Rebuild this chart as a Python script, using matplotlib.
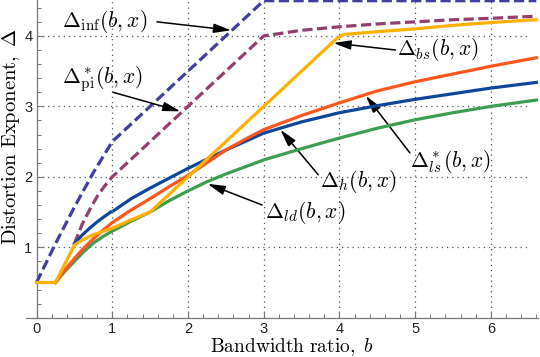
import matplotlib
matplotlib.use("Agg")
import matplotlib.pyplot as plt
from matplotlib.ticker import FixedLocator
import numpy as np

plt.rcParams['mathtext.fontset'] = 'cm'

# ---- data ----
b_inf = [0, 0.25, 0.5, 0.75, 1, 3, 6.6]
d_inf = [0.5, 1.05, 1.57, 2.06, 2.5, 4.5, 4.5]

b_pi = [0.5, 0.6, 0.7, 0.8, 0.9, 1, 3, 3.5, 4, 4.5, 5, 5.5, 6, 6.6]
d_pi = [1.05, 1.32, 1.53, 1.72, 1.87, 2.0, 4.0, 4.08, 4.13, 4.17, 4.2, 4.23, 4.25, 4.28]

b_h1 = [0.5, 0.6, 0.7, 0.8, 0.9, 0.98]
d_h1 = [1.05, 1.17, 1.27, 1.36, 1.44, 1.5]
b_h2 = [1.02, 1.25, 1.5, 1.75, 2, 2.25, 2.5, 2.75, 3, 3.5, 4, 4.5, 5, 5.5, 6, 6.6]
d_h2 = [1.52, 1.69, 1.84, 1.98, 2.12, 2.25, 2.38, 2.5, 2.62, 2.78, 2.91, 3.01, 3.1, 3.18, 3.26, 3.34]

b_ls = [0.25, 0.375, 0.5, 0.625, 0.75, 0.875, 1, 1.25, 1.5, 1.75, 2, 2.25, 2.5, 2.75, 3, 3.5, 4, 4.5, 5, 5.5, 6, 6.6]
d_ls = [0.5, 0.68, 0.84, 0.99, 1.12, 1.24, 1.35, 1.53, 1.69, 1.86, 2.02, 2.2, 2.38, 2.53, 2.67, 2.87, 3.05, 3.22, 3.35, 3.46, 3.57, 3.69]

b_ld = [0.25, 0.375, 0.5, 0.625, 0.75, 0.875, 1, 1.25, 1.5, 1.75, 2, 2.25, 2.5, 2.75, 3, 3.5, 4, 4.5, 5, 5.5, 6, 6.6]
d_ld = [0.5, 0.66, 0.8, 0.94, 1.06, 1.15, 1.23, 1.37, 1.5, 1.66, 1.8, 1.93, 2.04, 2.14, 2.24, 2.4, 2.55, 2.69, 2.81, 2.91, 3.0, 3.09]

b_bs = [0, 0.25, 0.5, 0.6, 0.75, 1, 1.25, 1.5, 3.95, 4.05, 4.5, 5, 5.5, 6, 6.6]
d_bs = [0.5, 0.5, 1.03, 1.1, 1.18, 1.27, 1.39, 1.5, 3.95, 4.02, 4.06, 4.1, 4.15, 4.19, 4.23]

x_ticks = [0, 1, 2, 3, 4, 5, 6]
y_ticks = [1, 2, 3, 4]

# ---- figure ----
fig = plt.figure(figsize=(5.4, 3.57), dpi=100)
ax = fig.add_axes([0.048, 0.11, 0.948, 0.89])
ax.set_xlim(-0.14, 6.62)
ax.set_ylim(0, 4.51)

lw = 2.3
dash = (3.2, 1.4)
ax.plot(b_inf, d_inf, color='#3f3f9f', lw=lw, dashes=dash, clip_on=False, zorder=3)
ax.plot(b_pi, d_pi, color='#963d70', lw=lw, dashes=dash, clip_on=False, zorder=3)
ax.plot(b_h1, d_h1, color='#0d4799', lw=lw, zorder=4)
ax.plot(b_h2, d_h2, color='#0d4799', lw=lw, zorder=4)
ax.plot(b_ld, d_ld, color='#3d9e52', lw=lw, zorder=5)
ax.plot(b_ls, d_ls, color='#ff561c', lw=lw, zorder=6)
ax.plot(b_bs, d_bs, color='#ffb000', lw=lw, zorder=7)

# grid
gcol = '#555555'
for xv in x_ticks[1:]:
    ax.plot([xv, xv], [0, 4.51], color=gcol, lw=0.9, ls=(0, (1, 3.2)), zorder=1)
for yv in y_ticks:
    ax.plot([0, 6.48], [yv, yv], color=gcol, lw=0.9, ls=(0, (1, 3.2)), zorder=1)

# spines
for s in ['top', 'right']:
    ax.spines[s].set_visible(False)
ax.spines['left'].set_position(('data', 0))
ax.spines['left'].set_color('#777777')
ax.spines['bottom'].set_color('#777777')
ax.spines['left'].set_linewidth(0.9)
ax.spines['bottom'].set_linewidth(0.9)

ax.xaxis.set_major_locator(FixedLocator(x_ticks))
ax.yaxis.set_major_locator(FixedLocator(y_ticks))
ax.xaxis.set_minor_locator(FixedLocator(np.arange(0, 6.61, 0.2)))
ax.yaxis.set_minor_locator(FixedLocator(np.arange(0.2, 4.5, 0.2)))
ax.tick_params(which='major', direction='in', length=5, width=0.8, color='#777777',
               labelsize=10.5, labelcolor='#222222')
ax.tick_params(which='minor', direction='in', length=3, width=0.7, color='#777777')
ax.tick_params(axis='x', which='major', pad=3)
ax.tick_params(axis='y', which='major', pad=3)
for lab in ax.get_xticklabels() + ax.get_yticklabels():
    lab.set_family('Liberation Sans')

fig.text(292 / 540, 1 - 352 / 357, r'$\mathrm{Bandwidth\ ratio,}\ b$', ha='center', va='baseline', fontsize=14)
fig.text(11 / 540, 1 - 136 / 357, r'$\mathrm{Distortion\ Exponent,}\ \Delta$', ha='center', va='center',
         rotation=90, fontsize=14.8)

# annotations
fs = 15.5
ap = dict(arrowstyle='-|>,head_length=0.75,head_width=0.2', color='black', lw=1.1,
          shrinkA=0, shrinkB=0, mutation_scale=14)
ax.text(0.34, 4.2, r'$\Delta_{\mathrm{inf}}(b,x)$', fontsize=fs, va='center', ha='left')
ax.annotate('', xy=(2.57, 4.08), xytext=(1.59, 4.2), arrowprops=ap)
ax.text(0.34, 3.39, r'$\Delta^*_{\mathrm{pi}}(b,x)$', fontsize=fs, va='center', ha='left')
ax.annotate('', xy=(1.9, 2.93), xytext=(1.01, 3.2), arrowprops=ap)
ax.text(4.76, 3.8, r'$\bar{\Delta}_{bs}(b,x)$', fontsize=fs, va='center', ha='left')
ax.annotate('', xy=(3.92, 3.9), xytext=(4.74, 3.8), arrowprops=ap)
ax.text(4.93, 2.22, r'$\Delta^*_{ls}(b,x)$', fontsize=fs, va='center', ha='left')
ax.annotate('', xy=(4.35, 3.15), xytext=(4.93, 2.34), arrowprops=ap)
ax.text(3.74, 1.93, r'$\Delta_h(b,x)$', fontsize=fs, va='center', ha='left')
ax.annotate('', xy=(3.22, 2.67), xytext=(3.72, 2.03), arrowprops=ap)
ax.text(3.02, 1.49, r'$\Delta_{ld}(b,x)$', fontsize=fs, va='center', ha='left')
ax.annotate('', xy=(2.26, 1.9), xytext=(2.98, 1.6), arrowprops=ap)

fig.savefig('out.png', dpi=100)
